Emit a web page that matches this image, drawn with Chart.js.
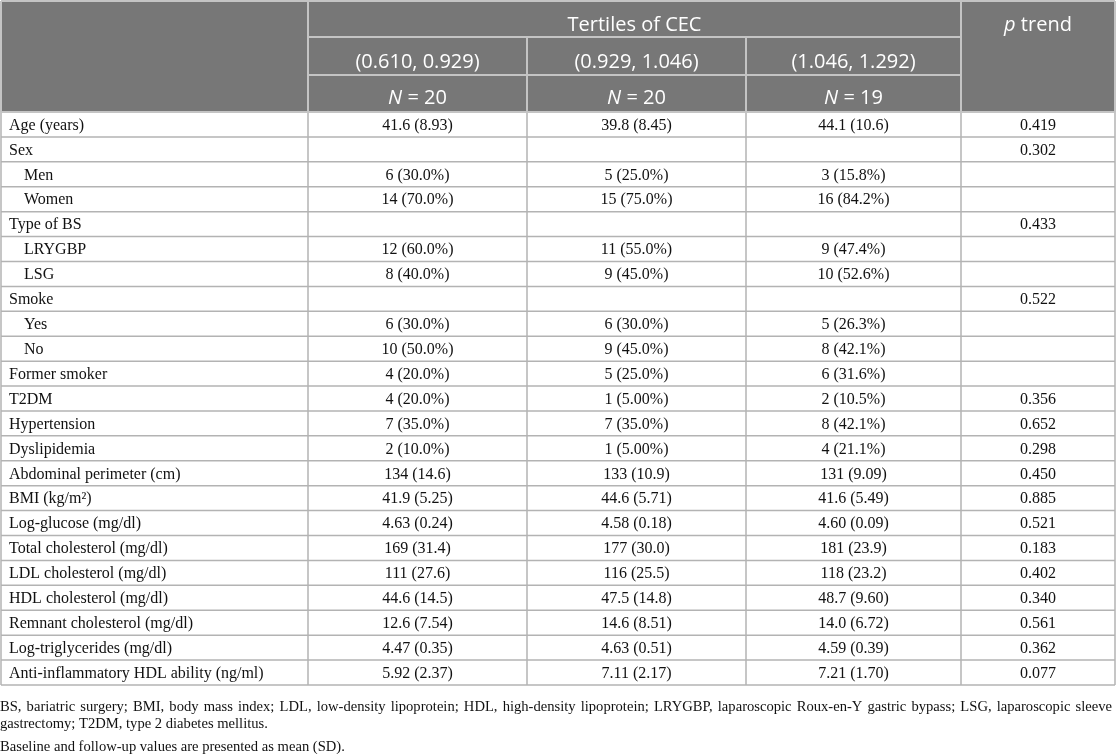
<!DOCTYPE html>
<html lang="en">
<head>
    <meta charset="UTF-8">
    <title>Tertiles of CEC</title>
    <script src="https://cdn.jsdelivr.net/npm/chart.js@4.4.0/dist/chart.umd.min.js"></script>
    <style>
        html, body {margin: 0; padding: 0; background: #ffffff;}
        #table_canvas {display: block;}
    </style>
</head>
<body>
    <canvas id="table_canvas" width="1116" height="754"></canvas>
    <script>
        // Table content
        const rowLabels = [
            'Age (years)', 'Sex', 'Men', 'Women', 'Type of BS', 'LRYGBP', 'LSG',
            'Smoke', 'Yes', 'No', 'Former smoker', 'T2DM', 'Hypertension', 'Dyslipidemia',
            'Abdominal perimeter (cm)', 'BMI (kg/m²)', 'Log-glucose (mg/dl)',
            'Total cholesterol (mg/dl)', 'LDL cholesterol (mg/dl)', 'HDL cholesterol (mg/dl)',
            'Remnant cholesterol (mg/dl)', 'Log-triglycerides (mg/dl)',
            'Anti-inflammatory HDL ability (ng/ml)'
        ];
        const subRows = ['Men', 'Women', 'LRYGBP', 'LSG', 'Yes', 'No'];

        const tertileRanges = ['(0.610, 0.929)', '(0.929, 1.046)', '(1.046, 1.292)'];
        const groupN = [20, 20, 19];

        const tertile1 = [
            '41.6 (8.93)', '', '6 (30.0%)', '14 (70.0%)', '', '12 (60.0%)', '8 (40.0%)',
            '', '6 (30.0%)', '10 (50.0%)', '4 (20.0%)', '4 (20.0%)', '7 (35.0%)', '2 (10.0%)',
            '134 (14.6)', '41.9 (5.25)', '4.63 (0.24)', '169 (31.4)', '111 (27.6)', '44.6 (14.5)',
            '12.6 (7.54)', '4.47 (0.35)', '5.92 (2.37)'
        ];
        const tertile2 = [
            '39.8 (8.45)', '', '5 (25.0%)', '15 (75.0%)', '', '11 (55.0%)', '9 (45.0%)',
            '', '6 (30.0%)', '9 (45.0%)', '5 (25.0%)', '1 (5.00%)', '7 (35.0%)', '1 (5.00%)',
            '133 (10.9)', '44.6 (5.71)', '4.58 (0.18)', '177 (30.0)', '116 (25.5)', '47.5 (14.8)',
            '14.6 (8.51)', '4.63 (0.51)', '7.11 (2.17)'
        ];
        const tertile3 = [
            '44.1 (10.6)', '', '3 (15.8%)', '16 (84.2%)', '', '9 (47.4%)', '10 (52.6%)',
            '', '5 (26.3%)', '8 (42.1%)', '6 (31.6%)', '2 (10.5%)', '8 (42.1%)', '4 (21.1%)',
            '131 (9.09)', '41.6 (5.49)', '4.60 (0.09)', '181 (23.9)', '118 (23.2)', '48.7 (9.60)',
            '14.0 (6.72)', '4.59 (0.39)', '7.21 (1.70)'
        ];
        const pTrend = [
            '0.419', '0.302', '', '', '0.433', '', '', '0.522', '', '', '', '0.356', '0.652', '0.298',
            '0.450', '0.885', '0.521', '0.183', '0.402', '0.340', '0.561', '0.362', '0.077'
        ];

        const footnotes = [
            'BS, bariatric surgery; BMI, body mass index; LDL, low-density lipoprotein; HDL, high-density lipoprotein; LRYGBP, laparoscopic Roux-en-Y gastric bypass; LSG, laparoscopic sleeve',
            'gastrectomy; T2DM, type 2 diabetes mellitus.',
            'Baseline and follow-up values are presented as mean (SD).'
        ];

        // Layout (table units = px on the x scale)
        const colEdges = [1, 308, 527, 746, 961, 1115];
        const headLines = [1, 37, 75, 112];
        const bodyBottom = 685;
        const footBase = [710.5, 728, 751];

        const HEAD_BG = '#777777';
        const HEAD_LINE = '#c4c4c4';
        const BODY_LINE = '#b3b3b3';
        const HEAD_FONT = '"Open Sans", "Noto Sans", sans-serif';
        const BODY_FONT = '"Liberation Serif", "DejaVu Serif", serif';

        // draw text pieces (some italic) as one run
        function drawRun(ctx, parts, x, y, size, family, align) {
            const fonts = parts.map(p => (p.italic ? 'italic ' : '') + size + 'px ' + family);
            let total = 0;
            const widths = parts.map((p, i) => {
                ctx.font = fonts[i];
                const w = ctx.measureText(p.text).width;
                total += w;
                return w;
            });
            let cx = align === 'center' ? x - total / 2 : x;
            ctx.textAlign = 'left';
            parts.forEach((p, i) => {
                ctx.font = fonts[i];
                ctx.fillText(p.text, cx, y);
                cx += widths[i];
            });
        }

        function drawJustified(ctx, text, x0, x1, y) {
            const words = text.split(' ');
            const widths = words.map(w => ctx.measureText(w).width);
            const sum = widths.reduce((a, b) => a + b, 0);
            const gap = (x1 - x0 - sum) / (words.length - 1);
            let cx = x0;
            ctx.textAlign = 'left';
            words.forEach((w, i) => {
                ctx.fillText(w, cx, y);
                cx += widths[i] + gap;
            });
        }

        const tablePlugin = {
            id: 'tableCells',
            afterDraw(chart) {
                const ctx = chart.ctx;
                const xs = chart.scales.x;
                const ys = chart.scales.y;
                const X = colEdges.map(v => xs.getPixelForValue(v));
                const top = chart.chartArea.top;
                const bottom = chart.chartArea.bottom;
                const rowH = ys.getPixelForValue(1) - ys.getPixelForValue(0);

                ctx.save();

                // header background
                ctx.fillStyle = HEAD_BG;
                ctx.fillRect(X[0], headLines[0], X[5] - X[0], top - headLines[0]);

                const line = (x1, y1, x2, y2) => {
                    ctx.beginPath();
                    ctx.moveTo(x1, y1);
                    ctx.lineTo(x2, y2);
                    ctx.stroke();
                };

                // body grid
                ctx.strokeStyle = BODY_LINE;
                ctx.lineWidth = 1.5;
                for (let i = 0; i <= rowLabels.length; i++) {
                    const y = top + i * rowH;
                    line(X[0], y, X[5], y);
                }
                X.forEach(x => line(x, top, x, bottom));

                // header grid
                ctx.strokeStyle = HEAD_LINE;
                ctx.lineWidth = 2;
                line(X[0], headLines[0], X[5], headLines[0]);
                line(X[0], top, X[5], top);
                line(X[1], headLines[1], X[4], headLines[1]);
                line(X[1], headLines[2], X[4], headLines[2]);
                [X[0], X[1], X[4], X[5]].forEach(x => line(x, headLines[0], x, top));
                [X[2], X[3]].forEach(x => line(x, headLines[1], x, top));

                // header text
                ctx.fillStyle = '#ffffff';
                ctx.textBaseline = 'alphabetic';
                drawRun(ctx, [{text: 'Tertiles of CEC'}], (X[1] + X[4]) / 2, 31, 20, HEAD_FONT, 'center');
                drawRun(ctx, [{text: 'p', italic: true}, {text: ' trend'}], (X[4] + X[5]) / 2, 31, 20, HEAD_FONT, 'center');
                tertileRanges.forEach((r, i) => {
                    const cx = (X[i + 1] + X[i + 2]) / 2;
                    drawRun(ctx, [{text: r}], cx, 68, 20, HEAD_FONT, 'center');
                    drawRun(ctx, [{text: 'N', italic: true}, {text: ' = ' + groupN[i]}], cx, 104, 20, HEAD_FONT, 'center');
                });

                // body text
                ctx.fillStyle = '#111111';
                ctx.font = '16px ' + BODY_FONT;
                const cols = [tertile1, tertile2, tertile3, pTrend];
                rowLabels.forEach((label, r) => {
                    const y = ys.getPixelForValue(r) + 5.3;
                    ctx.textAlign = 'left';
                    ctx.fillText(label, X[0] + (subRows.includes(label) ? 23 : 8), y);
                    ctx.textAlign = 'center';
                    cols.forEach((col, c) => {
                        if (col[r]) ctx.fillText(col[r], (X[c + 1] + X[c + 2]) / 2, y);
                    });
                });

                // footnotes
                ctx.fillStyle = '#111111';
                ctx.font = '14.6px ' + BODY_FONT;
                drawJustified(ctx, footnotes[0], 0, 1112, footBase[0]);
                ctx.textAlign = 'left';
                ctx.fillText(footnotes[1], 0, footBase[1]);
                ctx.fillText(footnotes[2], 0, footBase[2]);

                ctx.restore();
            }
        };

        new Chart(document.getElementById('table_canvas'), {
            type: 'scatter',
            data: {labels: rowLabels, datasets: []},
            options: {
                responsive: false,
                animation: false,
                layout: {padding: {top: headLines[3], bottom: 754 - bodyBottom, left: 0, right: 0}},
                plugins: {legend: {display: false}, tooltip: {enabled: false}},
                scales: {
                    x: {type: 'linear', min: 0, max: 1116, display: false},
                    y: {type: 'category', labels: rowLabels, offset: true, display: false}
                }
            },
            plugins: [tablePlugin]
        });
    </script>
</body>
</html>
